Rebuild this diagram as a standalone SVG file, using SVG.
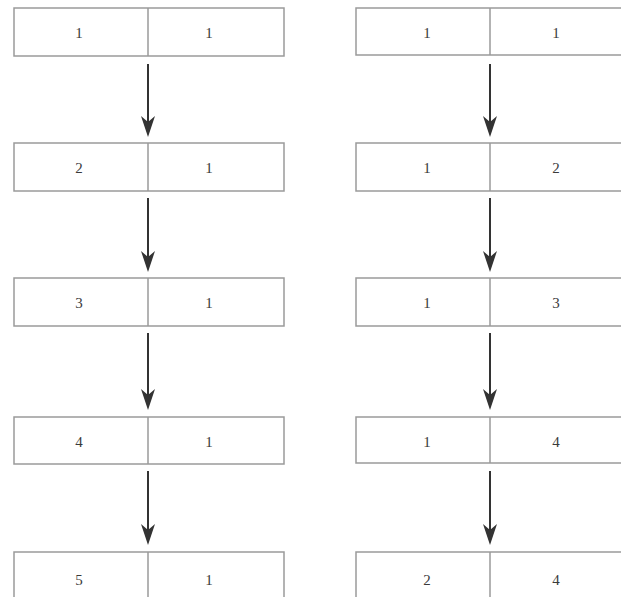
<svg xmlns="http://www.w3.org/2000/svg" width="621" height="597" viewBox="0 0 621 597">
<defs>
<style>
.box{fill:#fff;stroke:#9a9a9a;stroke-width:1.5}
.div{stroke:#9a9a9a;stroke-width:1.5}
.t{font-family:"Liberation Serif",serif;font-size:15px;fill:#3a3a3a;text-anchor:middle}
.a{stroke:#333;stroke-width:2;fill:none}
.h{fill:#333}
</style>
</defs>
<rect width="621" height="597" fill="#fff"/>
<g id="L1"><rect class="box" x="14" y="8" width="270" height="48"/><line class="div" x1="148" y1="8" x2="148" y2="56"/><text class="t" x="79" y="38">1</text><text class="t" x="209" y="38">1</text></g>
<g id="L2"><rect class="box" x="14" y="143" width="270" height="48"/><line class="div" x1="148" y1="143" x2="148" y2="191"/><text class="t" x="79" y="173">2</text><text class="t" x="209" y="173">1</text></g>
<g id="L3"><rect class="box" x="14" y="278" width="270" height="48"/><line class="div" x1="148" y1="278" x2="148" y2="326"/><text class="t" x="79" y="308">3</text><text class="t" x="209" y="308">1</text></g>
<g id="L4"><rect class="box" x="14" y="417" width="270" height="47"/><line class="div" x1="148" y1="417" x2="148" y2="464"/><text class="t" x="79" y="447">4</text><text class="t" x="209" y="447">1</text></g>
<g id="L5"><rect class="box" x="14" y="552" width="270" height="50"/><line class="div" x1="148" y1="552" x2="148" y2="597"/><text class="t" x="79" y="585">5</text><text class="t" x="209" y="585">1</text></g>
<g id="R1"><rect class="box" x="356" y="8" width="270" height="47"/><line class="div" x1="490" y1="8" x2="490" y2="55"/><text class="t" x="427" y="38">1</text><text class="t" x="556" y="38">1</text></g>
<g id="R2"><rect class="box" x="356" y="143" width="270" height="48"/><line class="div" x1="490" y1="143" x2="490" y2="191"/><text class="t" x="427" y="173">1</text><text class="t" x="556" y="173">2</text></g>
<g id="R3"><rect class="box" x="356" y="278" width="270" height="48"/><line class="div" x1="490" y1="278" x2="490" y2="326"/><text class="t" x="427" y="308">1</text><text class="t" x="556" y="308">3</text></g>
<g id="R4"><rect class="box" x="356" y="417" width="270" height="46"/><line class="div" x1="490" y1="417" x2="490" y2="463"/><text class="t" x="427" y="447">1</text><text class="t" x="556" y="447">4</text></g>
<g id="R5"><rect class="box" x="356" y="552" width="270" height="50"/><line class="div" x1="490" y1="552" x2="490" y2="597"/><text class="t" x="427" y="585">2</text><text class="t" x="556" y="585">4</text></g>
<g id="connectors">
<line class="a" x1="148" y1="64" x2="148" y2="125"/><path class="h" d="M141,116 L148,137 L155,116 L148,122 Z"/>
<line class="a" x1="148" y1="198" x2="148" y2="260"/><path class="h" d="M141,251 L148,272 L155,251 L148,257 Z"/>
<line class="a" x1="148" y1="333" x2="148" y2="398"/><path class="h" d="M141,389 L148,410 L155,389 L148,395 Z"/>
<line class="a" x1="148" y1="471" x2="148" y2="533"/><path class="h" d="M141,524 L148,545 L155,524 L148,530 Z"/>
<line class="a" x1="490" y1="64" x2="490" y2="125"/><path class="h" d="M483,116 L490,137 L497,116 L490,122 Z"/>
<line class="a" x1="490" y1="198" x2="490" y2="260"/><path class="h" d="M483,251 L490,272 L497,251 L490,257 Z"/>
<line class="a" x1="490" y1="333" x2="490" y2="398"/><path class="h" d="M483,389 L490,410 L497,389 L490,395 Z"/>
<line class="a" x1="490" y1="471" x2="490" y2="533"/><path class="h" d="M483,524 L490,545 L497,524 L490,530 Z"/>
</g>
</svg>
